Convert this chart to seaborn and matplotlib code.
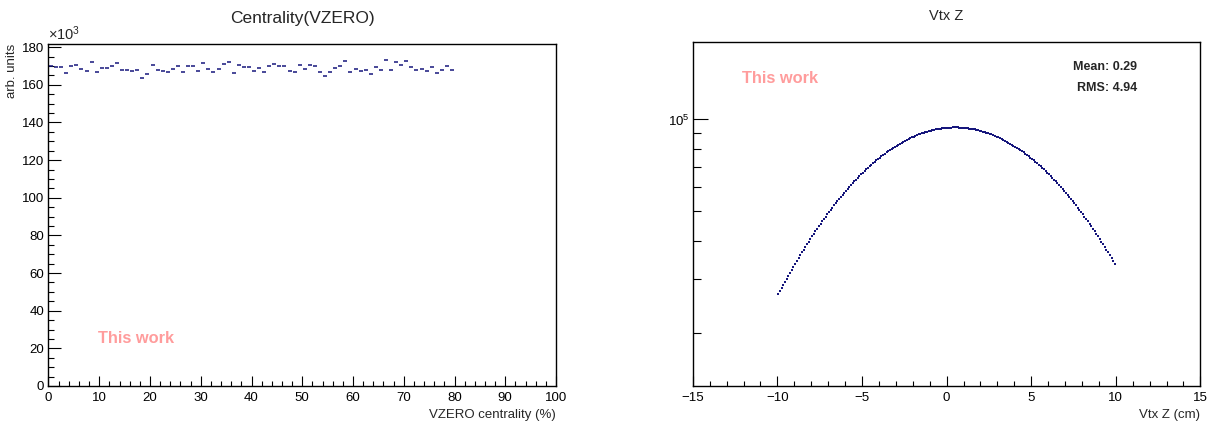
import numpy as np
import pandas as pd
import matplotlib
matplotlib.use("Agg")
import matplotlib.pyplot as plt
import seaborn as sns
from matplotlib.ticker import MultipleLocator, LogLocator, NullFormatter, LogFormatterSciNotation

# ---- centrality distribution (VZERO), 1%-wide bins, counts in units of 10^3 ----
centrality_bins = np.arange(0, 80) + 0.5
centrality_counts_k = [
    170.0, 169.3, 169.6, 166.2, 169.8, 170.4, 168.4, 167.3, 172.0, 167.0,
    168.9, 168.9, 169.8, 171.4, 167.9, 167.9, 167.5, 168.0, 163.4, 165.9,
    170.4, 167.9, 167.1, 166.8, 168.2, 170.2, 166.8, 170.0, 170.0, 167.1,
    171.6, 168.2, 166.8, 168.2, 171.1, 172.0, 166.2, 170.7, 169.6, 169.5,
    167.3, 168.9, 167.0, 169.8, 170.9, 170.0, 170.2, 167.3, 166.6, 170.5,
    168.2, 170.7, 170.0, 166.8, 164.8, 167.0, 169.1, 170.2, 172.7, 166.8,
    168.4, 167.1, 168.0, 165.9, 169.6, 167.7, 173.4, 167.9, 172.0, 170.5,
    172.7, 169.5, 167.7, 168.4, 167.3, 169.5, 166.4, 167.9, 170.0, 167.7,
]

# ---- primary vertex z distribution, 1 mm bins from -10 to 10 cm ----
vtxz_bins = np.round(np.arange(-9.95, 10.0, 0.1), 2)
vtxz_counts = [
    26795, 27444, 28103, 28771, 29447, 30133, 30828, 31531, 32243, 32963,
    33692, 34428, 35173, 35925, 36686, 37453, 38229, 39011, 39800, 40596,
    41398, 42206, 43020, 43840, 44665, 45494, 46329, 47168, 48012, 48859,
    49710, 50564, 51421, 52280, 53141, 54004, 54869, 55734, 56600, 57466,
    58333, 59198, 60063, 60926, 61787, 62647, 63503, 64356, 65206, 66052,
    66894, 67730, 68561, 69386, 70206, 71018, 71824, 72621, 73411, 74192,
    74964, 75727, 76480, 77223, 77955, 78675, 79385, 80083, 80768, 81440,
    82098, 82744, 83374, 83991, 84592, 85179, 85749, 86303, 86841, 87362,
    87867, 88353, 88822, 89273, 89705, 90119, 90514, 90890, 91246, 91582,
    91900, 92196, 92472, 92728, 92963, 93177, 93371, 93543, 93693, 93823,
    93931, 94017, 94082, 94126, 94147,
    94147, 94126, 94082, 94017, 93931, 93823, 93693, 93543, 93371, 93177,
    92963, 92728, 92472, 92196, 91900, 91582, 91246, 90890, 90514, 90119,
    89705, 89273, 88822, 88353, 87867, 87362, 86841, 86303, 85749, 85179,
    84592, 83991, 83374, 82744, 82098, 81440, 80768, 80083, 79385, 78675,
    77955, 77223, 76480, 75727, 74964, 74192, 73411, 72621, 71824, 71018,
    70206, 69386, 68561, 67730, 66894, 66052, 65206, 64356, 63503, 62647,
    61787, 60926, 60063, 59198, 58333, 57466, 56600, 55734, 54869, 54004,
    53141, 52280, 51421, 50564, 49710, 48859, 48012, 47168, 46329, 45494,
    44665, 43840, 43020, 42206, 41398, 40596, 39800, 39011, 38229, 37453,
    36686, 35925, 35173, 34428, 33692,
]

vtx_mean = 0.29
vtx_rms = 4.94

sns.set_style("ticks")
plt.rcParams["font.family"] = ["Liberation Sans", "DejaVu Sans"]
plt.rcParams["mathtext.fontset"] = "custom"
plt.rcParams["mathtext.rm"] = "Liberation Sans"
plt.rcParams["mathtext.it"] = "Liberation Sans:italic"

MARK = "#16167c"
PINK = "#ff9c9c"
W, H = 1214, 425

fig = plt.figure(figsize=(W / 100, H / 100), dpi=100)
ax1 = fig.add_axes([48.5 / W, 1 - 386 / H, (556 - 48.5) / W, (386 - 44) / H])
ax2 = fig.add_axes([692.8 / W, 1 - 386 / H, (1200.4 - 692.8) / W, (386 - 41.7) / H])

for ax in (ax1, ax2):
    for sp in ax.spines.values():
        sp.set_linewidth(1.0)
        sp.set_color("black")
    ax.tick_params(which="both", direction="in", top=False, right=False,
                   width=0.8, colors="black", labelsize=9.5)

# ---- left: centrality ----
cent_df = pd.DataFrame({"centrality": centrality_bins, "counts": centrality_counts_k})
sns.scatterplot(data=cent_df, x="centrality", y="counts", marker="_", s=12,
                linewidth=1.1, color=MARK, ax=ax1, legend=False)
ax1.set_xlim(0, 100)
ax1.set_ylim(0, 181.7)
ax1.xaxis.set_major_locator(MultipleLocator(10))
ax1.xaxis.set_minor_locator(MultipleLocator(2))
ax1.yaxis.set_major_locator(MultipleLocator(20))
ax1.yaxis.set_minor_locator(MultipleLocator(5))
ax1.tick_params(axis="y", which="major", length=9, pad=3)
ax1.tick_params(axis="y", which="minor", length=4.5)
ax1.tick_params(axis="x", which="major", length=7.5, pad=4.5)
ax1.tick_params(axis="x", which="minor", length=3.8)
ax1.set_xlabel("VZERO centrality (%)", loc="right", fontsize=9.5)
ax1.xaxis.set_label_coords(1.0, -0.066)
ax1.set_ylabel("arb. units", loc="top", fontsize=9.5)
ax1.yaxis.set_label_coords(-0.060, 1.0)
ax1.text(0.0, 1.004, r"$\times10^{3}$", transform=ax1.transAxes,
         ha="left", va="bottom", fontsize=10.5)
ax1.set_title("Centrality(VZERO)", fontsize=12.5, y=1.076, va="center", pad=0)
ax1.text(0.0975, 0.140, "This work", transform=ax1.transAxes, color=PINK,
         fontsize=11.8, fontweight="bold", ha="left", va="center")

# ---- right: vertex z ----
vtx_df = pd.DataFrame({"vz": vtxz_bins, "counts": vtxz_counts})
sns.scatterplot(data=vtx_df, x="vz", y="counts", marker="s", s=1.8,
                linewidth=0, color=MARK, ax=ax2, legend=False)
ax2.set_yscale("log")
ax2.set_xlim(-15, 15)
ax2.set_ylim(13400, 179700)
ax2.xaxis.set_major_locator(MultipleLocator(5))
ax2.xaxis.set_minor_locator(MultipleLocator(1))
ax2.yaxis.set_major_locator(LogLocator(base=10, numticks=10))
ax2.yaxis.set_major_formatter(LogFormatterSciNotation())
ax2.yaxis.set_minor_locator(LogLocator(base=10, subs=np.arange(2, 10), numticks=10))
ax2.yaxis.set_minor_formatter(NullFormatter())
ax2.tick_params(axis="y", which="major", length=11, pad=2)
ax2.tick_params(axis="y", which="minor", length=5.8)
ax2.tick_params(axis="x", which="major", length=7.5, pad=4.5)
ax2.tick_params(axis="x", which="minor", length=3.8)
ax2.set_xlabel("Vtx Z (cm)", loc="right", fontsize=9.5)
ax2.xaxis.set_label_coords(1.0, -0.066)
ax2.set_ylabel("")
ax2.set_title("Vtx Z", fontsize=10.5, y=1.075, va="center", pad=0)
ax2.text(0.0975, 0.8945, "This work", transform=ax2.transAxes, color=PINK,
         fontsize=11.8, fontweight="bold", ha="left", va="center")
ax2.text(0.875, 0.9265, f"Mean: {vtx_mean:.2f}", transform=ax2.transAxes,
         fontsize=9, fontweight="bold", ha="right", va="center")
ax2.text(0.875, 0.8655, f"RMS: {vtx_rms:.2f}", transform=ax2.transAxes,
         fontsize=9, fontweight="bold", ha="right", va="center")

fig.savefig("out.png", dpi=100)
